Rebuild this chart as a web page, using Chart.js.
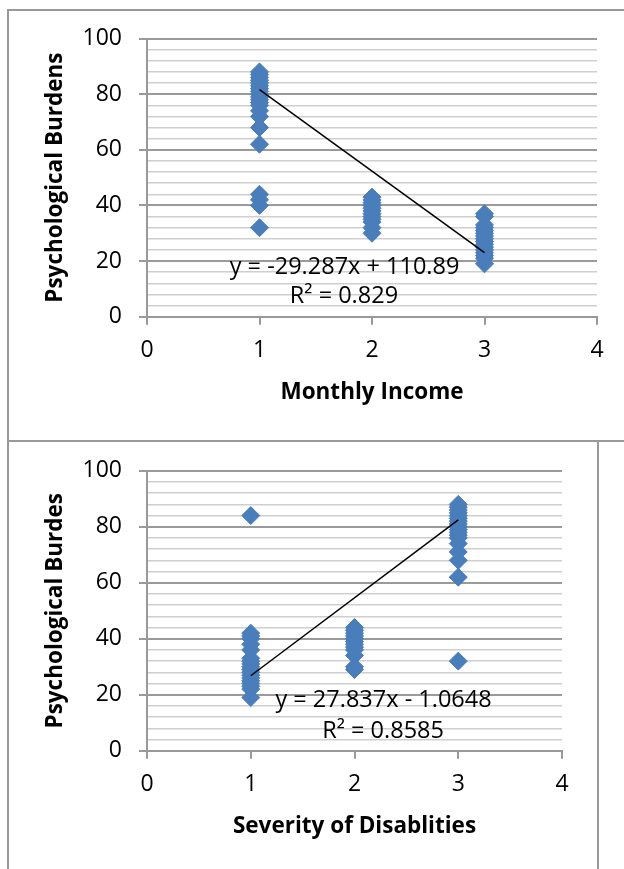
<!DOCTYPE html>
<html lang="en">
<head>
    <meta charset="UTF-8">
    <title>Psychological Burdens</title>
    <script src="https://cdn.jsdelivr.net/npm/chart.js"></script>
    <style>
        body { margin: 0; background: #fff; width: 624px; height: 869px; overflow: hidden; position: relative; }
        .box1 { position: absolute; left: 7px; top: 9px; width: 640px; height: 429px;
                border-left: 2px solid #999; border-top: 2px solid #999; border-bottom: 2px solid #999; }
        .box2 { position: absolute; left: 7px; top: 442px; width: 588px; height: 440px;
                border-left: 2px solid #999; border-right: 2px solid #999; }
        .chart1 { position: absolute; left: 0; top: 0; width: 624px; height: 435px; }
        .chart2 { position: absolute; left: 0; top: 440px; width: 624px; height: 429px; }
    </style>
</head>
<body>
    <div class="box1"></div>
    <div class="box2"></div>
    <div class="chart1"><canvas id="income-chart"></canvas></div>
    <div class="chart2"><canvas id="severity-chart"></canvas></div>

    <script>
        // Monthly Income vs Psychological Burdens
        const incomeX = [1, 1, 1, 1, 1, 1, 1, 1, 1, 1, 1, 1, 1, 1, 1, 1, 1, 1, 1, 1, 1,
                         2, 2, 2, 2, 2, 2, 2, 2, 2, 2, 2, 2,
                         3, 3, 3, 3, 3, 3, 3, 3, 3, 3, 3, 3, 3, 3, 3, 3];
        const incomeY = [88, 87, 86, 85, 84, 83, 82, 81, 80, 79, 78, 77, 76, 74, 72, 68, 62, 44, 42, 40, 32,
                         43, 42, 41, 40, 39, 38, 37, 36, 35, 34, 32, 30,
                         37, 36, 33, 32, 31, 30, 29, 28, 27, 26, 25, 24, 23, 22, 21, 19];
        const incomeTrendX = [1, 3];
        const incomeTrendY = [81.603, 23.029];

        // Severity of Disablities vs Psychological Burdes
        const severityX = [1, 1, 1, 1, 1, 1, 1, 1, 1, 1, 1, 1, 1, 1, 1, 1, 1, 1, 1,
                           2, 2, 2, 2, 2, 2, 2, 2, 2, 2, 2, 2,
                           3, 3, 3, 3, 3, 3, 3, 3, 3, 3, 3, 3, 3, 3, 3, 3, 3, 3];
        const severityY = [84, 42, 41, 40, 38, 36, 33, 32, 31, 30, 29, 28, 27, 26, 25, 24, 23, 22, 19,
                           44, 43, 42, 41, 40, 39, 38, 37, 36, 34, 30, 29,
                           88, 87, 86, 85, 84, 83, 82, 81, 80, 79, 78, 77, 76, 74, 71, 68, 62, 32];
        const severityTrendX = [1, 3];
        const severityTrendY = [26.772, 82.446];

        const xTicks = [0, 1, 2, 3, 4];
        const yTicks = [0, 20, 40, 60, 80, 100];

        const FONT = '"Open Sans", "Liberation Sans", sans-serif';
        const BLUE = '#4a7ebb';

        const toPoints = (xs, ys) => xs.map((x, i) => ({ x: x, y: ys[i] }));

        // draws the trendline equation labels at data positions
        const equationLabels = {
            id: 'equationLabels',
            afterDatasetsDraw(chart, args, opts) {
                const ctx = chart.ctx;
                const sx = chart.scales.x, sy = chart.scales.y;
                ctx.save();
                ctx.font = '23.5px ' + FONT;
                ctx.fillStyle = '#000';
                ctx.textAlign = 'center';
                ctx.textBaseline = 'middle';
                opts.lines.forEach(l => {
                    ctx.fillText(l.text, sx.getPixelForValue(l.x), sy.getPixelForValue(l.y));
                });
                ctx.restore();
            }
        };

        function makeChart(id, xs, ys, tx, ty, xTitle, yTitle, pad, xHeight, titlePadX, lines) {
            return new Chart(document.getElementById(id), {
                type: 'scatter',
                data: {
                    datasets: [
                        {
                            type: 'line',
                            data: toPoints(tx, ty),
                            borderColor: '#000',
                            borderWidth: 1.5,
                            pointRadius: 0,
                            fill: false
                        },
                        {
                            data: toPoints(xs, ys),
                            pointStyle: 'rectRot',
                            pointRadius: 9,
                            pointBorderWidth: 1,
                            backgroundColor: BLUE,
                            borderColor: BLUE
                        }
                    ]
                },
                options: {
                    responsive: true,
                    maintainAspectRatio: false,
                    animation: false,
                    events: [],
                    layout: { padding: pad },
                    plugins: {
                        legend: { display: false },
                        tooltip: { enabled: false },
                        equationLabels: { lines: lines }
                    },
                    scales: {
                        x: {
                            type: 'linear',
                            min: 0, max: 4,
                            afterBuildTicks: s => { s.ticks = xTicks.map(v => ({ value: v })); },
                            afterFit: s => { s.height = xHeight; },
                            ticks: { color: '#000', font: { family: FONT, size: 23 }, padding: 12, maxRotation: 0 },
                            grid: { drawOnChartArea: false, drawTicks: true, tickLength: 8, color: '#999', lineWidth: 2 },
                            border: { color: '#999', width: 2 },
                            title: {
                                display: true, text: xTitle, color: '#000',
                                font: { family: FONT, size: 22.5, weight: 'bold' },
                                padding: { top: 0, bottom: titlePadX }
                            }
                        },
                        y: {
                            min: 0, max: 100,
                            ticks: {
                                stepSize: 4,
                                autoSkip: false,
                                color: '#000',
                                font: { family: FONT, size: 23 },
                                padding: 17,
                                callback: v => yTicks.includes(v) ? String(v) : ''
                            },
                            afterFit: s => { s.width = 147; },
                            grid: {
                                tickLength: 8,
                                color: c => (c.tick && c.tick.value % 20 === 0) ? '#9a9a9a' : '#cfcfcf',
                                tickColor: c => (c.tick && c.tick.value % 20 === 0) ? '#9a9a9a' : 'rgba(0,0,0,0)',
                                lineWidth: c => (c.tick && c.tick.value % 20 === 0) ? 2 : 1.5
                            },
                            border: { color: '#999', width: 2 },
                            title: {
                                display: true, text: yTitle, color: '#000',
                                font: { family: FONT, size: 22.5, weight: 'bold' },
                                padding: { top: 42.5, bottom: 0 }
                            }
                        }
                    }
                },
                plugins: [equationLabels]
            });
        }

        makeChart('income-chart', incomeX, incomeY, incomeTrendX, incomeTrendY,
            'Monthly Income', 'Psychological Burdens',
            { top: 38.5, right: 27, left: 0, bottom: 0 }, 118.3, 29,
            [{ text: 'y = -29.287x + 110.89', x: 1.756, y: 17.6 },
             { text: 'R² = 0.829', x: 1.751, y: 7.2 }]);

        makeChart('severity-chart', severityX, severityY, severityTrendX, severityTrendY,
            'Severity of Disablities', 'Psychological Burdes',
            { top: 30.7, right: 62, left: 0, bottom: 0 }, 118.3, 28.5,
            [{ text: 'y = 27.837x - 1.0648', x: 2.28, y: 18.1 },
             { text: 'R² = 0.8585', x: 2.276, y: 6.8 }]);
    </script>
</body>
</html>
